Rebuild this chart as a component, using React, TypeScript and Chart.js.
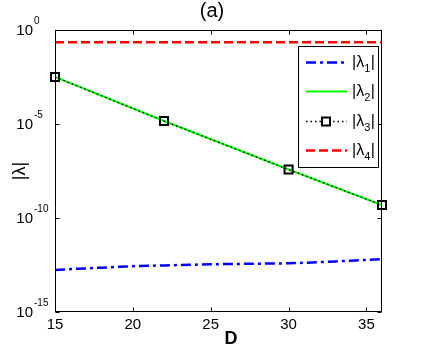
import React, { useEffect, useRef } from "react";
import { Chart, registerables } from "chart.js";

Chart.register(...registerables);

// ---- data ----
const D_ALL = [15, 16, 17, 18, 19, 20, 21, 22, 23, 24, 25, 26, 27, 28, 29, 30, 31, 32, 33, 34, 35, 36];
const LAMBDA1 = [
  1.74e-13, 1.91e-13, 2.09e-13, 2.29e-13, 2.51e-13, 2.75e-13, 2.88e-13, 3.02e-13, 3.16e-13, 3.31e-13, 3.47e-13,
  3.55e-13, 3.63e-13, 3.72e-13, 3.8e-13, 3.89e-13, 4.17e-13, 4.47e-13, 4.9e-13, 5.37e-13, 5.89e-13, 6.46e-13,
];
const D_MARKED = [15, 22, 30, 36];
const LAMBDA2 = [3.16e-3, 1.45e-5, 3.8e-8, 4.9e-10];
const LAMBDA3 = [3.16e-3, 1.45e-5, 3.8e-8, 4.9e-10];
const D_ENDS = [15, 36];
const LAMBDA4 = [0.22, 0.22];

const X_TICKS = [15, 20, 25, 30, 35];
const Y_TICKS = [1, 1e-5, 1e-10, 1e-15];
const Y_TICK_EXPONENTS = ["0", "-5", "-10", "-15"];
const LEGEND_SUBSCRIPTS = ["1", "2", "3", "4"];
const TITLE = "(a)";
const X_TITLE = "D";
const Y_TITLE = "|λ|";

const FONT = "'Liberation Sans', Arial, Helvetica, sans-serif";

const STYLES = [
  { color: "#0000ff", width: 2.5, dash: [10, 4, 3, 4], marker: false },
  { color: "#00ff00", width: 2, dash: [] as number[], marker: false },
  { color: "#000000", width: 1.3, dash: [1.5, 3], marker: true },
  { color: "#ff0000", width: 2.5, dash: [9, 4], marker: false },
];

const decorPlugin = {
  id: "decor",
  afterDraw(chart: any) {
    const { ctx, chartArea: a, scales } = chart;
    const xs = scales.x;
    const ys = scales.y;
    ctx.save();
    ctx.strokeStyle = "#000";
    ctx.fillStyle = "#000";
    ctx.lineWidth = 1;
    ctx.setLineDash([]);
    const L = Math.round(a.left) + 0.5;
    const R = Math.round(a.right) - 0.5;
    const T = Math.round(a.top) + 0.5;
    const B = Math.round(a.bottom) - 0.5;
    ctx.strokeRect(L, T, R - L, B - T);

    const tl = 4;
    ctx.beginPath();
    X_TICKS.forEach((v) => {
      const px = Math.round(xs.getPixelForValue(v)) + 0.5;
      ctx.moveTo(px, B);
      ctx.lineTo(px, B - tl);
      ctx.moveTo(px, T);
      ctx.lineTo(px, T + tl);
    });
    Y_TICKS.forEach((v) => {
      const py = Math.round(ys.getPixelForValue(v)) + 0.5;
      ctx.moveTo(L, py);
      ctx.lineTo(L + tl, py);
      ctx.moveTo(R, py);
      ctx.lineTo(R - tl, py);
    });
    ctx.stroke();

    // x tick labels
    ctx.font = `15px ${FONT}`;
    ctx.textAlign = "center";
    ctx.textBaseline = "middle";
    X_TICKS.forEach((v) => {
      ctx.fillText(String(v), xs.getPixelForValue(v), B + 13);
    });

    // y tick labels 10^n
    Y_TICKS.forEach((v, i) => {
      const py = ys.getPixelForValue(v);
      ctx.font = `15px ${FONT}`;
      ctx.textAlign = "right";
      ctx.textBaseline = "middle";
      ctx.fillText("10", 33, py + 0.5);
      ctx.font = `10px ${FONT}`;
      ctx.textAlign = "left";
      ctx.fillText(Y_TICK_EXPONENTS[i], 34, py - 9);
    });

    // axis titles
    ctx.font = `bold 18px ${FONT}`;
    ctx.textAlign = "center";
    ctx.textBaseline = "middle";
    ctx.fillText(X_TITLE, 231, 339);

    ctx.save();
    ctx.translate(20, (a.top + a.bottom) / 2);
    ctx.rotate(-Math.PI / 2);
    ctx.font = `18px ${FONT}`;
    ctx.fillText(Y_TITLE, 0, 0);
    ctx.restore();

    // title
    ctx.font = `20px ${FONT}`;
    ctx.fillText(TITLE, 212, 11);

    // legend
    const lx0 = 298.5, ly0 = 46.5, lx1 = 378.5, ly1 = 167.5;
    ctx.fillStyle = "#fff";
    ctx.fillRect(lx0, ly0, lx1 - lx0, ly1 - ly0);
    ctx.strokeStyle = "#000";
    ctx.lineWidth = 1;
    ctx.strokeRect(lx0, ly0, lx1 - lx0, ly1 - ly0);
    const rows = [62.5, 91.5, 121.5, 150.5];
    STYLES.forEach((s, i) => {
      const y = rows[i];
      ctx.strokeStyle = s.color;
      ctx.lineWidth = s.width;
      ctx.setLineDash(s.dash);
      ctx.beginPath();
      ctx.moveTo(306, y);
      ctx.lineTo(347, y);
      ctx.stroke();
      ctx.setLineDash([]);
      if (s.marker) {
        ctx.fillStyle = "#fff";
        ctx.fillRect(322, y - 4, 8, 8);
        ctx.strokeStyle = "#000";
        ctx.lineWidth = 2;
        ctx.strokeRect(322, y - 4, 8, 8);
      }
      ctx.fillStyle = "#000";
      ctx.textAlign = "left";
      ctx.textBaseline = "middle";
      ctx.font = `16px ${FONT}`;
      let x = 352;
      ctx.fillText("|λ", x, y);
      x += ctx.measureText("|λ").width;
      ctx.font = `11px ${FONT}`;
      ctx.fillText(LEGEND_SUBSCRIPTS[i], x, y + 6);
      x += ctx.measureText(LEGEND_SUBSCRIPTS[i]).width + 0.5;
      ctx.font = `16px ${FONT}`;
      ctx.fillText("|", x, y);
    });

    ctx.restore();
  },
};

export default function App() {
  const ref = useRef<HTMLCanvasElement | null>(null);
  useEffect(() => {
    document.body.style.margin = "0";
    const canvas = ref.current;
    if (!canvas) return;
    const chart = new Chart(canvas, {
      type: "line",
      data: {
        datasets: [
          {
            label: "|λ3|",
            data: D_MARKED.map((d, i) => ({ x: d, y: LAMBDA3[i] })),
            borderColor: STYLES[2].color,
            borderWidth: STYLES[2].width,
            borderDash: STYLES[2].dash,
            pointStyle: "rect",
            pointRadius: 5.7,
            pointBorderWidth: 2,
            pointBorderColor: "#000",
            pointBackgroundColor: "rgba(0,0,0,0)",
            clip: false,
            order: 0,
          } as any,
          {
            label: "|λ2|",
            data: D_MARKED.map((d, i) => ({ x: d, y: LAMBDA2[i] })),
            borderColor: STYLES[1].color,
            borderWidth: STYLES[1].width,
            pointRadius: 0,
            order: 1,
          },
          {
            label: "|λ1|",
            data: D_ALL.map((d, i) => ({ x: d, y: LAMBDA1[i] })),
            borderColor: STYLES[0].color,
            borderWidth: STYLES[0].width,
            borderDash: STYLES[0].dash,
            pointRadius: 0,
            order: 2,
          },
          {
            label: "|λ4|",
            data: D_ENDS.map((d, i) => ({ x: d, y: LAMBDA4[i] })),
            borderColor: STYLES[3].color,
            borderWidth: STYLES[3].width,
            borderDash: STYLES[3].dash,
            pointRadius: 0,
            order: 3,
          },
        ],
      },
      options: {
        responsive: false,
        animation: false,
        devicePixelRatio: 1,
        layout: { padding: { left: 55, right: 40, top: 30, bottom: 38 } },
        plugins: { legend: { display: false }, tooltip: { enabled: false }, title: { display: false } },
        elements: { line: { tension: 0 } },
        scales: {
          x: {
            type: "linear",
            min: 15,
            max: 36,
            grid: { display: false, drawTicks: false },
            border: { display: false },
            ticks: { display: false },
          },
          y: {
            type: "logarithmic",
            min: 1e-15,
            max: 1,
            grid: { display: false, drawTicks: false },
            border: { display: false },
            ticks: { display: false },
          },
        },
      },
      plugins: [decorPlugin],
    });
    return () => chart.destroy();
  }, []);
  return (
    <div style={{ position: "absolute", left: 0, top: 0, width: 422, height: 350, background: "#fff" }}>
      <canvas ref={ref} width={422} height={350} />
    </div>
  );
}
